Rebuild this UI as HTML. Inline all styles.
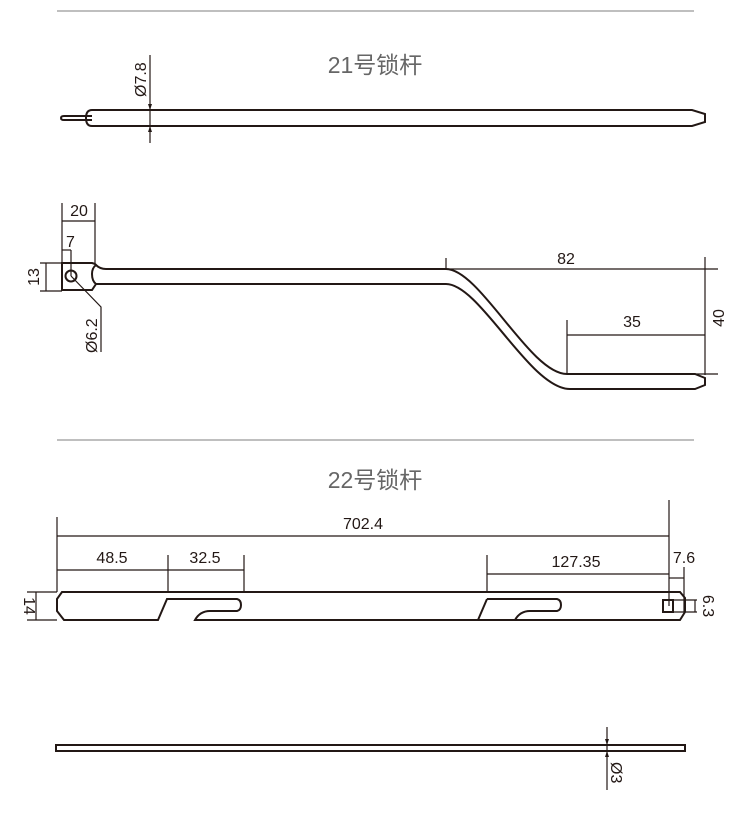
<!DOCTYPE html>
<html><head><meta charset="utf-8"><style>
html,body{margin:0;padding:0;background:#fff;}
svg{display:block;}
text{font-family:"Liberation Sans","Noto Sans CJK SC",sans-serif;fill:#231815;}
.t{fill:#666;font-size:23px;}
.d{font-size:16px;}
</style></head><body>
<svg width="750" height="836" viewBox="0 0 750 836" xmlns="http://www.w3.org/2000/svg">
<g stroke="#aaa" stroke-width="1.5">
<line x1="57" y1="11" x2="694" y2="11"/>
<line x1="57" y1="440" x2="694" y2="440"/>
</g>
<text class="t" x="375" y="73" text-anchor="middle">21号锁杆</text>
<text class="t" x="375" y="488" text-anchor="middle">22号锁杆</text>

<g fill="none" stroke="#231815" stroke-width="2">
<path d="M92,110 H692 L705,114 V122 L692,126 H92 Q86,126 86,118 Q86,110 92,110 Z"/>
<path d="M92,116 H64 Q61,116 61,118 Q61,120 64,120 H92"/>
<path d="M62,263 H92 Q96,264 96,265 Q92,268 92,274 Q92,281 96,284 Q94,287 92,290 H62 Z"/>
<circle cx="71" cy="276" r="5.5"/>
<path d="M96,265 Q100,269 106,269 H446 C480,269 530,374 567,374 H695 L705,378 V385 L695,389 H570 C530,389 480,284 446,284 H106 Q100,284 96,284"/>
<path d="M62,592 H680 L685,598 V612 L680,620 H195 Q200,611 210,611 H237 Q241,610 241,605 Q241,600 237,599 H167 L158,620 H64 L57,611 V599 Z"/>
<path d="M487,599 H557 Q561,600 561,605 Q561,610 557,611 H530 Q520,611 515,620 M478,620 L487,599"/>
<rect x="663" y="600" width="10" height="12"/>
<rect x="56" y="745" width="629" height="6"/>
</g>

<g fill="none" stroke="#231815" stroke-width="1.2">
<line x1="150" y1="55" x2="150" y2="143"/>
<line x1="62" y1="203" x2="62" y2="263"/>
<line x1="95" y1="203" x2="95" y2="265"/>
<line x1="62" y1="221" x2="95" y2="221"/>
<line x1="71" y1="250" x2="71" y2="276"/>
<line x1="62" y1="250" x2="71" y2="250"/>
<line x1="46" y1="263" x2="46" y2="291"/>
<line x1="40" y1="263" x2="62" y2="263"/>
<line x1="40" y1="291" x2="62" y2="291"/>
<path d="M71,276 L101,307 V352"/>
<line x1="446" y1="258" x2="446" y2="269"/>
<line x1="446" y1="269" x2="718" y2="269"/>
<line x1="705" y1="257" x2="705" y2="375"/>
<line x1="567" y1="374" x2="718" y2="374"/>
<line x1="567" y1="320" x2="567" y2="374"/>
<line x1="567" y1="335" x2="705" y2="335"/>
<line x1="57" y1="517" x2="57" y2="592"/>
<line x1="669" y1="500" x2="669" y2="606"/>
<line x1="57" y1="536" x2="669" y2="536"/>
<line x1="57" y1="570" x2="244" y2="570"/>
<line x1="168" y1="555" x2="168" y2="592"/>
<line x1="244" y1="555" x2="244" y2="592"/>
<line x1="487" y1="555" x2="487" y2="592"/>
<line x1="487" y1="574" x2="669" y2="574"/>
<line x1="684" y1="567" x2="684" y2="612"/>
<line x1="669" y1="578" x2="684" y2="578"/>
<line x1="673" y1="600" x2="697" y2="600"/>
<line x1="673" y1="612" x2="697" y2="612"/>
<line x1="695" y1="600" x2="695" y2="612"/>
<line x1="36" y1="592" x2="36" y2="620"/>
<line x1="27" y1="592" x2="57" y2="592"/>
<line x1="27" y1="620" x2="57" y2="620"/>
<line x1="607" y1="727" x2="607" y2="790"/>
</g>
<g fill="#231815">
<path d="M150,110 l-2,-6 h4 Z"/>
<path d="M150,126 l-2,6 h4 Z"/>
<path d="M607,745 l-2,-6 h4 Z"/>
<path d="M607,751 l-2,6 h4 Z"/>
</g>

<text class="d" transform="translate(146,97) rotate(-90)">Ø7.8</text>
<text class="d" x="79" y="216" text-anchor="middle">20</text>
<text class="d" x="66" y="247">7</text>
<text class="d" transform="translate(39,277) rotate(-90)" text-anchor="middle">13</text>
<text class="d" transform="translate(97,353) rotate(-90)">Ø6.2</text>
<text class="d" x="566" y="264" text-anchor="middle">82</text>
<text class="d" x="632" y="327" text-anchor="middle">35</text>
<text class="d" transform="translate(724,318) rotate(-90)" text-anchor="middle">40</text>
<text class="d" x="363" y="529" text-anchor="middle">702.4</text>
<text class="d" x="112" y="563" text-anchor="middle">48.5</text>
<text class="d" x="205" y="563" text-anchor="middle">32.5</text>
<text class="d" x="576" y="567" text-anchor="middle">127.35</text>
<text class="d" x="684" y="563" text-anchor="middle">7.6</text>
<text class="d" transform="translate(703,606) rotate(90)" text-anchor="middle">6.3</text>
<text class="d" transform="translate(24,606) rotate(90)" text-anchor="middle">14</text>
<text class="d" transform="translate(611,762) rotate(90)">Ø3</text>
</svg>
</body></html>
